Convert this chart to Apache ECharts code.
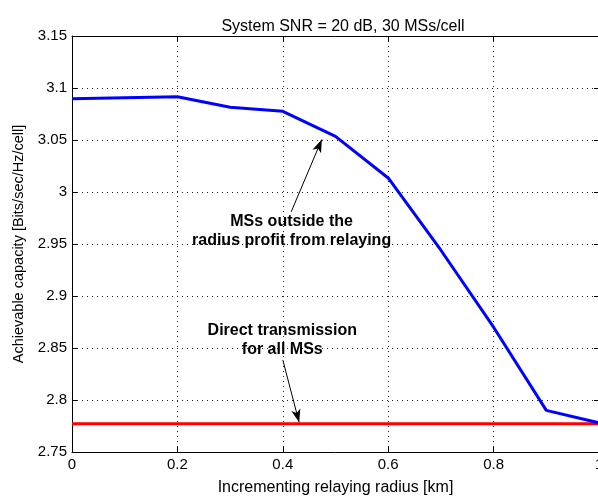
<!DOCTYPE html>
<html>
<head>
<meta charset="utf-8">
<script src="https://cdn.jsdelivr.net/npm/echarts@6/dist/echarts.min.js"></script>
<style>
  html, body { margin: 0; padding: 0; background: #fff; }
  #main { width: 598px; height: 497px; }
</style>
</head>
<body>
<div id="main"></div>
<script>
// Data
const radius = [0, 0.2, 0.3, 0.4, 0.5, 0.6, 0.7, 0.8, 0.9, 1.0];
const relayCapacity = [3.0897, 3.0916, 3.0815, 3.0776, 3.0535, 3.0135, 2.944, 2.870, 2.790, 2.778];
const directX = [0, 1.0];
const directCapacity = [2.7772, 2.7772];

// Annotations (data coordinates)
const arrowRelay = [[0.416, 2.981], [0.474, 3.0505]];
const arrowDirect = [[0.400, 2.8385], [0.431, 2.7785]];
const notes = [
    [0.4167, 2.9712, 'MSs outside the'],
    [0.4167, 2.9529, 'radius profit from relaying'],
    [0.3990, 2.8663, 'Direct transmission'],
    [0.3990, 2.8481, 'for all MSs']
];

const FONT = '"Liberation Sans", Arial, sans-serif';

const chart = echarts.init(document.getElementById('main'));

const gridDots = { show: true, lineStyle: { color: '#222', width: 1, type: [1, 4] } };

chart.setOption({
    animation: false,
    title: {
        text: 'System SNR = 20 dB, 30 MSs/cell',
        left: 338, top: 14, textAlign: 'center',
        textStyle: { fontFamily: FONT, fontSize: 16, fontWeight: 'normal', color: '#000' }
    },
    grid: { left: 72, right: -1, top: 36, bottom: 45, outerBoundsMode: 'none', containLabel: false },
    xAxis: [
        {
            type: 'value', min: 0, max: 1, interval: 0.2,
            name: 'Incrementing relaying radius [km]',
            nameLocation: 'middle', nameGap: 28,
            nameTextStyle: { fontFamily: FONT, fontSize: 16, color: '#000' },
            axisLine: { onZero: false, lineStyle: { color: '#000', width: 1 } },
            axisTick: { inside: true, length: 5, lineStyle: { color: '#000' } },
            axisLabel: { fontFamily: FONT, fontSize: 15, color: '#000', margin: 5 },
            splitLine: gridDots
        },
        {
            type: 'value', position: 'top', min: 0, max: 1, interval: 0.2,
            axisLine: { onZero: false, lineStyle: { color: '#000', width: 1 } },
            axisTick: { inside: true, length: 5, lineStyle: { color: '#000' } },
            axisLabel: { show: false },
            splitLine: { show: false }
        }
    ],
    yAxis: [
        {
            type: 'value', min: 2.75, max: 3.15, interval: 0.05,
            name: 'Achievable capacity [Bits/sec/Hz/cell]',
            nameLocation: 'middle', nameGap: 46,
            nameTextStyle: { fontFamily: FONT, fontSize: 14.5, color: '#000' },
            axisLine: { onZero: false, lineStyle: { color: '#000', width: 1 } },
            axisTick: { inside: true, length: 5, lineStyle: { color: '#000' } },
            axisLabel: {
                fontFamily: FONT, fontSize: 15, color: '#000', margin: 5,
                formatter: v => String(parseFloat(v.toFixed(2)))
            },
            splitLine: gridDots
        },
        {
            type: 'value', position: 'right', min: 2.75, max: 3.15, interval: 0.05,
            axisLine: { onZero: false, lineStyle: { color: '#000', width: 1 } },
            axisTick: { inside: true, length: 5, lineStyle: { color: '#000' } },
            axisLabel: { show: false },
            splitLine: { show: false }
        }
    ],
    series: [
        {
            name: 'Relaying',
            type: 'line',
            data: radius.map((x, i) => [x, relayCapacity[i]]),
            showSymbol: false,
            lineStyle: { color: '#0000ff', width: 3 },
            itemStyle: { color: '#0000ff' },
            silent: true,
            z: 3
        },
        {
            name: 'Direct',
            type: 'line',
            data: directX.map((x, i) => [x, directCapacity[i]]),
            showSymbol: false,
            lineStyle: { color: '#ff0000', width: 3 },
            itemStyle: { color: '#ff0000' },
            silent: true,
            z: 2,
            markLine: {
                silent: true,
                symbol: ['none', 'arrow'],
                symbolSize: [7, 13],
                label: { show: false },
                lineStyle: { color: '#000', width: 1, type: 'solid' },
                data: [
                    [{ coord: arrowRelay[0] }, { coord: arrowRelay[1] }],
                    [{ coord: arrowDirect[0] }, { coord: arrowDirect[1] }]
                ]
            }
        },
        {
            name: 'Notes',
            type: 'scatter',
            data: notes,
            symbolSize: 0,
            silent: true,
            itemStyle: { opacity: 1 },
            label: {
                show: true,
                position: 'inside',
                formatter: p => p.value[2],
                fontFamily: FONT, fontSize: 16, fontWeight: 'bold', color: '#000',
                opacity: 1,
                textBorderWidth: 0
            },
            z: 5
        }
    ]
});
</script>
</body>
</html>
